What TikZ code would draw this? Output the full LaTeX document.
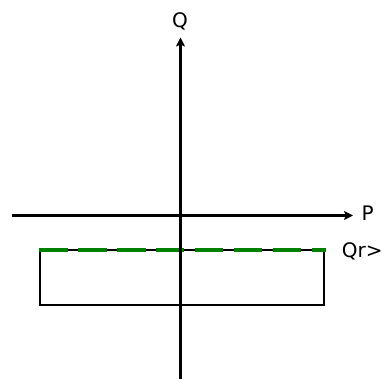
\documentclass[tikz,border=0pt]{standalone}
\usepackage{fontspec}
\setmainfont{DejaVu Sans}
\usetikzlibrary{arrows.meta}
\definecolor{dgreen}{RGB}{0,128,0}
\tikzset{
  axis/.style={line width=2.8pt,-{Stealth[length=9pt,width=9pt,inset=2pt]}},
  lbl/.style={inner sep=0pt,anchor=base west,font=\fontsize{20}{23}\selectfont},
  rectline/.style={line width=1.3pt,draw=black},
  dashline/.style={line width=4pt,draw=dgreen,dash pattern=on 28.4pt off 10.5pt}
}
\begin{document}
\begin{tikzpicture}[x=1pt,y=-1pt]
\useasboundingbox (0,0) rectangle (386,379);
% rectangle
\coordinate (r1) at (40,250);
\coordinate (r2) at (324,305);
\draw[rectline] (r1) rectangle (r2);
% green dashed line
\coordinate (g1) at (39.3,250.5);
\coordinate (g2) at (325.7,250.5);
\draw[dashline] (g1) -- (g2);
% axes
\coordinate (xa) at (11.7,215.5);
\coordinate (xb) at (353,215.5);
\coordinate (ya) at (180.5,380);
\coordinate (yb) at (180.5,37.5);
\draw[axis] (xa) -- (xb);
\draw[axis] (ya) -- (yb);
% labels
\node[lbl,anchor=base] (Q) at (180,27.3) {Q};
\node[lbl] (P) at (361.3,220.8) {P};
\node[lbl] (Qr) at (341.6,257.2) {Qr>};
\end{tikzpicture}
\end{document}
